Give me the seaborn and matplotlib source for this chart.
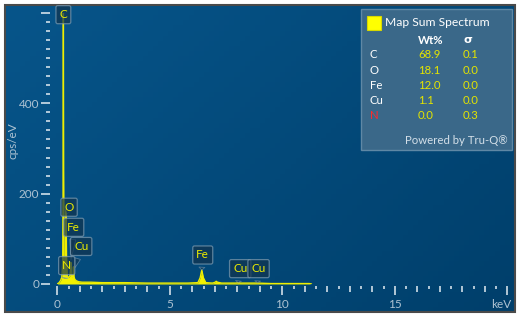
import numpy as np
import pandas as pd
import matplotlib
matplotlib.use("Agg")
import matplotlib.pyplot as plt
import seaborn as sns
from matplotlib.colors import LinearSegmentedColormap
from matplotlib.patches import Rectangle
from matplotlib.ticker import MultipleLocator, FuncFormatter

# spectrum (keV, cps/eV)
energy = [0.00, 0.08, 0.15, 0.20, 0.24, 0.26, 0.27, 0.28, 0.30, 0.32, 0.33, 0.35,
          0.37, 0.39, 0.41, 0.44, 0.48, 0.52, 0.56, 0.59, 0.60, 0.62, 0.66, 0.70,
          0.72, 0.74, 0.78, 0.85, 0.95, 1.10, 1.5, 2.0, 3.0, 4.0, 5.0, 5.8, 6.25,
          6.35, 6.42, 6.49, 6.6, 6.9, 7.02, 7.06, 7.12, 7.3, 7.95, 8.04, 8.15,
          8.9, 9.5, 10.5, 11.2, 11.3]
counts = [0, 3, 8, 15, 45, 250, 650, 250, 40, 22, 26, 20,
          35, 165, 60, 18, 14, 16, 18, 35, 48, 20, 14, 22,
          38, 16, 10, 7, 5, 4, 4, 3, 3, 2, 2, 2, 3,
          14, 31, 14, 3, 2, 4, 6, 4, 2, 2, 3, 2,
          2, 1, 1, 1, 0]

# peak labels
label_names = ["C", "O", "Fe", "Cu", "N", "Fe", "Cu", "Cu"]
label_kev = [0.27, 0.39, 0.60, 0.75, 0.33, 6.42, 8.04, 8.90]
label_cps = [583, 150, 48, 30, 12, 31, 3, 3]
# box offsets from the peak, in pixels
label_offsets = [(0, 6), (3, 9), (3, 35), (7, 24), (2, 13), (1, 15), (2, 14), (1, 14)]

# quantification table
table_elements = ["C", "O", "Fe", "Cu", "N"]
table_wt = ["68.9", "18.1", "12.0", "1.1", "0.0"]
table_sigma = ["0.1", "0.0", "0.0", "0.0", "0.3"]
table_colors = ["white", "white", "white", "white", "#ff2a2a"]

sns.set_style("ticks")
plt.rcParams["font.family"] = ["Lato", "DejaVu Sans"]

W, H = 524, 317
fig = plt.figure(figsize=(W / 100, H / 100), dpi=100, facecolor="white")

# background panel, pixel coordinates
bg = fig.add_axes([5 / W, 5 / H, 510 / W, 307 / H])
bg.set_xlim(5, 515)
bg.set_ylim(312, 5)
bg.axis("off")
grad = np.add.outer(np.linspace(0, 0.8, 60), np.linspace(0, 1.2, 100))
cmap = LinearSegmentedColormap.from_list("bg", ["#07558a", "#003f6b"])
bg.imshow(grad, cmap=cmap, extent=(5, 515, 312, 5), aspect="auto", zorder=0)
bg.add_patch(Rectangle((5, 5), 510, 307, fill=False, ec="#4a4a4a", lw=1.5,
                       clip_on=False, zorder=5))

# spectrum axes
ax = fig.add_axes([57.3 / W, 33 / H, 450 / W, 271 / H])
ax.set_facecolor("none")
spec = pd.DataFrame({"keV": energy, "cps": counts})
ax.fill_between(spec["keV"], spec["cps"], color="#f2f200", lw=0, zorder=2)
sns.lineplot(data=spec, x="keV", y="cps", color="#eeee00", lw=1.0, ax=ax,
             estimator=None, sort=False, zorder=3)
ax.set_xlim(0, 20)
ax.set_ylim(0, 600)

for s in ["top", "right"]:
    ax.spines[s].set_visible(False)
ax.spines["left"].set_position(("outward", 5))
ax.spines["left"].set_color("none")
ax.spines["bottom"].set_position(("outward", 1.5))
ax.spines["bottom"].set_color("none")

tick_c = "#e3ecf2"
lab_c = "#adc2d2"
ax.yaxis.set_major_locator(MultipleLocator(200))
ax.yaxis.set_minor_locator(MultipleLocator(20))
ax.yaxis.set_major_formatter(FuncFormatter(lambda v, _: "" if v >= 600 else f"{v:.0f}"))
ax.tick_params(axis="y", which="major", length=6.5, width=1.1, color=tick_c,
               labelcolor=lab_c, labelsize=8.5, pad=1.5)
ax.tick_params(axis="y", which="minor", length=3.2, width=1.1, color=tick_c)

ax.xaxis.set_major_locator(MultipleLocator(5))
ax.xaxis.set_minor_locator(MultipleLocator(1))
ax.xaxis.set_major_formatter(FuncFormatter(lambda v, _: "" if v >= 20 else f"{v:.0f}"))
ax.tick_params(axis="x", which="major", length=6.5, width=1.1, color=tick_c,
               labelcolor=lab_c, labelsize=8.5, pad=2.5)
ax.tick_params(axis="x", which="minor", length=4.3, width=1.1, color=tick_c)

# half keV ticks
ax2 = ax.twiny()
ax2.set_facecolor("none")
ax2.set_xlim(0, 20)
ax2.xaxis.set_ticks_position("bottom")
for s in ["top", "right", "left"]:
    ax2.spines[s].set_visible(False)
ax2.spines["bottom"].set_position(("outward", 1.5))
ax2.spines["bottom"].set_color("none")
ax2.set_xticks(np.arange(0.5, 20, 1))
ax2.tick_params(axis="x", which="major", length=2.2, width=1.1, color=tick_c,
                labelbottom=False, labeltop=False, top=False)

ax.set_xlabel("")
ax.set_ylabel("cps/eV", color=lab_c, fontsize=8.5)
ax.yaxis.set_label_coords(-0.086, 0.528)
ax.text(1.008, -0.074, "keV", transform=ax.transAxes, ha="right", va="center",
        color=lab_c, fontsize=8.5)

# peak label callouts
for name, e, c, (dx, dy) in zip(label_names, label_kev, label_cps, label_offsets):
    ax.annotate(name, xy=(e, c), xytext=(dx, dy), textcoords="offset pixels",
                ha="center", va="center", color="#ecec00", fontsize=8.5,
                annotation_clip=False, zorder=6,
                bbox=dict(boxstyle="round,pad=0.3,rounding_size=0.15",
                          fc="#12344e", ec="#7f9db2", lw=0.9, alpha=0.7),
                arrowprops=dict(arrowstyle="wedge,tail_width=0.5,shrink_factor=0.5",
                                fc="#12344e", ec="#7f9db2", lw=0.6, alpha=0.6))

# quantification table
bg.add_patch(Rectangle((361, 9), 151, 141, fc="#3a6889", ec="#5f88a5", lw=1, zorder=3))
bg.add_patch(Rectangle((367, 16), 14, 14, fc="#ffff00", ec="#d8d800", lw=0.8, zorder=4))
bg.text(385, 22, "Map Sum Spectrum", color="white", fontsize=8.7, va="center", zorder=4)
bg.text(418, 40, "Wt%", color="white", fontsize=8.2, weight="bold", va="center", zorder=4)
bg.text(464, 40, "σ", color="white", fontsize=8.2, weight="bold", va="center",
        family=["DejaVu Sans"], zorder=4)
for i, (el, wt, sg, col) in enumerate(zip(table_elements, table_wt, table_sigma, table_colors)):
    y = 55 + i * 15.2
    bg.text(370, y, el, color=col, fontsize=8.2, va="center", zorder=4)
    bg.text(418, y, wt, color="#e4e400", fontsize=8.2, va="center", zorder=4)
    bg.text(463, y, sg, color="#e4e400", fontsize=8.2, va="center", zorder=4)
bg.text(508, 140, "Powered by Tru-Q®", color="#d3dfe8", fontsize=8.2, ha="right",
        va="center", zorder=4)

fig.savefig("out.png", dpi=100, facecolor="white")
